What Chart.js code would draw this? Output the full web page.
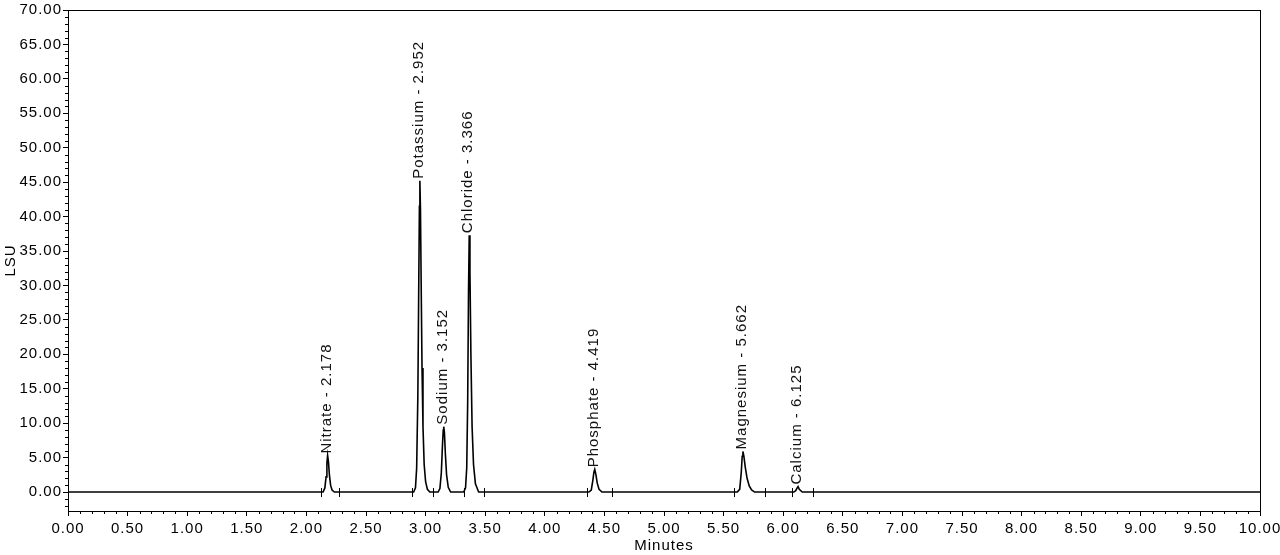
<!DOCTYPE html>
<html>
<head>
<meta charset="utf-8">
<script src="https://cdn.jsdelivr.net/npm/chart.js@4"></script>
<style>
  html, body { margin: 0; padding: 0; background: #fff; }
  canvas { display: block; }
</style>
</head>
<body>
<canvas id="chromChart" width="1280" height="555"></canvas>
<script>
// signal trace (minutes / LSU)
const minutes = [
    0.00, 2.12,
    2.140, 2.155, 2.165, 2.172, 2.178, 2.185, 2.193, 2.203, 2.215, 2.235,
    2.900, 2.915, 2.925, 2.935, 2.943, 2.948, 2.952, 2.957, 2.963, 2.970, 2.978, 2.988, 3.000, 3.015, 3.035,
    3.105, 3.120, 3.132, 3.142, 3.148, 3.152, 3.158, 3.166, 3.176, 3.190, 3.210,
    3.320, 3.335, 3.345, 3.353, 3.360, 3.366, 3.372, 3.380, 3.390, 3.402, 3.418, 3.445,
    4.370, 4.390, 4.402, 4.412, 4.419, 4.428, 4.440, 4.455, 4.480,
    5.615, 5.635, 5.648, 5.656, 5.662, 5.670, 5.682, 5.697, 5.715, 5.735, 5.760,
    6.090, 6.105, 6.117, 6.125, 6.135, 6.160,
    10.00
];
const lsu = [
    0, 0,
    0, 0.6, 2.2, 4.2, 5.3, 4.4, 2.5, 1.0, 0.3, 0,
    0, 0.6, 3.5, 14, 31, 41.5, 45.2, 41, 30, 18, 9.5, 4, 1.5, 0.4, 0,
    0, 0.5, 2.8, 7.0, 9.0, 9.5, 8.6, 5.5, 2.5, 0.7, 0,
    0, 0.6, 3.5, 13, 29, 37.3, 32, 20, 9.5, 4, 1.2, 0,
    0, 0.3, 1.6, 2.9, 3.3, 2.6, 1.3, 0.4, 0,
    0, 0.4, 2.8, 5.2, 5.9, 5.2, 3.6, 2.0, 0.9, 0.3, 0,
    0, 0.2, 0.6, 0.8, 0.4, 0,
    0
];

// peak annotations
const peakNames = ['Nitrate', 'Potassium', 'Sodium', 'Chloride', 'Phosphate', 'Magnesium', 'Calcium'];
const peakTimes = [2.178, 2.952, 3.152, 3.366, 4.419, 5.662, 6.125];
const peakHeights = [5.3, 45.2, 9.5, 37.3, 3.3, 5.9, 0.8];

// integration start/end marks on the baseline
const markTimes = [2.12, 2.27, 2.89, 3.06, 3.32, 3.49, 4.35, 4.56, 5.59, 5.85, 6.07, 6.25];

// axis ranges / ticks
const xMin = 0, xMax = 10, xStep = 0.5, xMinor = 0.1;
const yMin = -2.75, yMax = 70, yStep = 5, yMinor = 1;

const FONT = 'Liberation Sans, Arial, sans-serif';
Chart.defaults.font.family = FONT;
Chart.defaults.font.size = 15;
Chart.defaults.color = '#000';

const chromPlugin = {
    id: 'chromDecor',
    beforeDraw(chart) {
        chart.ctx.letterSpacing = '1px';
    },
    afterDraw(chart) {
        const ctx = chart.ctx;
        const a = chart.chartArea;
        const xs = chart.scales.x, ys = chart.scales.y;
        ctx.save();
        ctx.strokeStyle = '#000';
        ctx.lineWidth = 1;

        // frame
        ctx.strokeRect(Math.round(a.left) + 0.5, Math.round(a.top) + 0.5,
            Math.round(a.right - a.left), Math.round(a.bottom - a.top));

        // minor ticks
        ctx.beginPath();
        for (let i = 0; i <= Math.round((xMax - xMin) / xMinor); i++) {
            if (i % 5 === 0) continue;
            const px = Math.round(xs.getPixelForValue(xMin + i * xMinor)) + 0.5;
            ctx.moveTo(px, a.bottom);
            ctx.lineTo(px, a.bottom + 3);
        }
        for (let v = Math.ceil(yMin); v < yMax; v += yMinor) {
            if (v % 5 === 0) continue;
            const py = Math.round(ys.getPixelForValue(v)) + 0.5;
            ctx.moveTo(a.left, py);
            ctx.lineTo(a.left - 3, py);
        }
        ctx.stroke();

        // integration marks
        ctx.beginPath();
        const y0 = ys.getPixelForValue(0);
        markTimes.forEach(t => {
            const px = Math.round(xs.getPixelForValue(t)) + 0.5;
            ctx.moveTo(px, y0 - 4);
            ctx.lineTo(px, y0 + 5);
        });
        ctx.stroke();

        // peak labels
        ctx.fillStyle = '#111';
        ctx.font = '15px ' + FONT;
        ctx.letterSpacing = '1px';
        ctx.textAlign = 'left';
        ctx.textBaseline = 'middle';
        peakNames.forEach((name, i) => {
            const px = xs.getPixelForValue(peakTimes[i]);
            const py = ys.getPixelForValue(peakHeights[i]);
            ctx.save();
            ctx.translate(px - 1, py - 2);
            ctx.rotate(-Math.PI / 2);
            ctx.fillText(name + ' - ' + peakTimes[i].toFixed(3), 0, 0);
            ctx.restore();
        });
        ctx.restore();
    }
};

new Chart(document.getElementById('chromChart'), {
    type: 'line',
    data: {
        datasets: [{
            data: minutes.map((t, i) => ({ x: t, y: lsu[i] })),
            borderColor: '#000',
            borderWidth: 1.6,
            pointRadius: 0,
            tension: 0,
            fill: false
        }]
    },
    options: {
        responsive: false,
        animation: false,
        devicePixelRatio: 1,
        parsing: false,
        layout: { padding: { top: 10, right: 20, left: 0, bottom: 0 } },
        plugins: { legend: { display: false }, tooltip: { enabled: false } },
        scales: {
            x: {
                type: 'linear',
                min: xMin, max: xMax,
                ticks: { stepSize: xStep, autoSkip: false, maxRotation: 0, padding: 4,
                    callback: v => v.toFixed(2) },
                grid: { drawOnChartArea: false, tickLength: 5, color: '#000' },
                border: { color: '#000' },
                title: { display: true, text: 'Minutes', padding: 0 },
                afterFit: s => { s.height = 44; s.paddingLeft = 0; s.paddingRight = 0; }
            },
            y: {
                min: yMin, max: yMax,
                ticks: { stepSize: yStep, includeBounds: false, padding: 1,
                    callback: v => v.toFixed(2) },
                grid: { drawOnChartArea: false, tickLength: 5, color: '#000' },
                border: { color: '#000' },
                title: { display: true, text: 'LSU', padding: { top: 2, bottom: 0 } },
                afterFit: s => { s.width = 68; s.paddingTop = 0; s.paddingBottom = 0; }
            }
        }
    },
    plugins: [chromPlugin]
});
</script>
</body>
</html>
